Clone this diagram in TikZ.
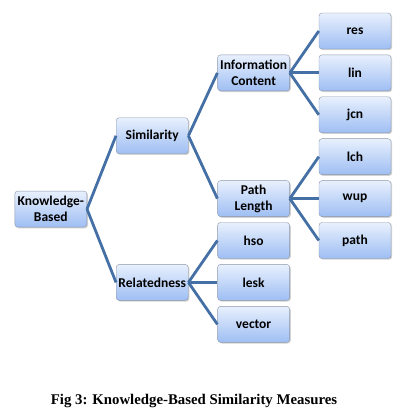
\documentclass[tikz,border=0pt]{standalone}
\usepackage{fontspec}
\setmainfont{Liberation Serif}
\newfontfamily\boxfont{Carlito}
\usetikzlibrary{positioning,calc,shadows}

\definecolor{linkblue}{RGB}{68,112,166}
\definecolor{boxtop}{RGB}{232,240,253}
\definecolor{boxbot}{RGB}{158,190,243}
\definecolor{boxline}{RGB}{140,150,168}

\begin{document}
\begin{tikzpicture}[
  x=1pt,y=-1pt,
  leaf/.style={draw=boxline,rounded corners=3pt,top color=boxtop,bottom color=boxbot,
    minimum width=72pt,minimum height=36pt,inner sep=2pt,align=center,
    font=\boxfont\bfseries\fontsize{13.5}{15.8}\selectfont,
    drop shadow={shadow xshift=1.2pt,shadow yshift=-1.2pt,fill=black!35}},
  link/.style={draw=linkblue,line width=2.8pt},
  node distance=5.5pt and 29pt
]
  \useasboundingbox (0,0) rectangle (404,411);

  % right column
  \node[leaf] (res) at (355,31) {res};
  \node[leaf,below=of res] (lin) {lin};
  \node[leaf,below=of lin] (jcn) {jcn};
  \node[leaf,below=of jcn] (lch) {lch};
  \node[leaf,below=of lch] (wup) {wup};
  \node[leaf,below=of wup] (path) {path};

  % middle column
  \node[leaf,left=of lin] (ic) {Information\\Content};
  \node[leaf,left=of wup] (pl) {Path\\Length};
  \node[leaf,left=of path] (hso) {hso};
  \node[leaf,below=of hso] (lesk) {lesk};
  \node[leaf,below=of lesk] (vec) {vector};

  % left part
  \node[leaf,left=of {$(ic.west)!0.5!(pl.west)$}] (sim) {Similarity};
  \node[leaf,left=of lesk] (rel) {Relatedness};
  \node[leaf,left=of {$(sim.west)!0.5!(rel.west)$}] (kb) {Knowledge-\\Based};

  \foreach \a/\b in {kb/sim,kb/rel,sim/ic,sim/pl,rel/hso,rel/lesk,rel/vec,
                     ic/res,ic/lin,ic/jcn,pl/lch,pl/wup,pl/path}
    \draw[link] (\a.east) -- (\b.west);

  \node[font=\bfseries\fontsize{14.8}{17}\selectfont] (cap) at (194,401)
    {Fig 3: Knowledge-Based Similarity Measures};
\end{tikzpicture}
\end{document}
